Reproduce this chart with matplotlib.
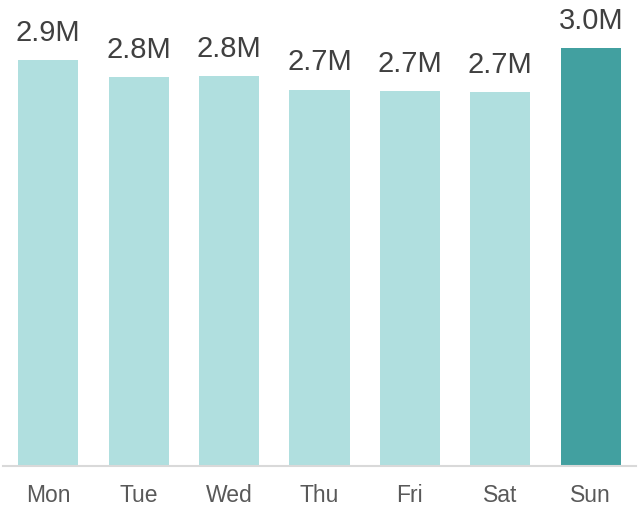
import matplotlib.pyplot as plt

plt.rcParams['font.family'] = ['Liberation Sans', 'DejaVu Sans']

# visitas por dia (millones)
dias = ['Mon', 'Tue', 'Wed', 'Thu', 'Fri', 'Sat', 'Sun']
valores = [2.91, 2.79, 2.80, 2.70, 2.69, 2.68, 3.00]
etiquetas = ['2.9M', '2.8M', '2.8M', '2.7M', '2.7M', '2.7M', '3.0M']

col_claro = '#b0dfdf'
col_oscuro = '#42a0a0'
colores = [col_oscuro if d == 'Sun' else col_claro for d in dias]

fig = plt.figure(figsize=(6.41, 5.12), dpi=100)
ax = fig.add_axes([3/641, 46.5/512, 633/641, 465.5/512])

x = range(len(dias))
barras = ax.bar(x, valores, width=0.665, color=colores)

for b, et in zip(barras, etiquetas):
    ax.annotate(et, (b.get_x() + b.get_width()/2, b.get_height()),
                xytext=(0, 9.5), textcoords='offset points',
                ha='center', va='bottom', fontsize=21, color='#404040')

ax.set_xlim(-0.5, 6.5)
ax.set_ylim(0, 3.344)
ax.set_xticks(list(x))
ax.set_xticklabels(dias, fontsize=16.5, color='#595959')
ax.tick_params(axis='x', length=0, pad=13)
ax.set_yticks([])
for s in ['top', 'right', 'left']:
    ax.spines[s].set_visible(False)
ax.spines['bottom'].set_color('#d9d9d9')
ax.spines['bottom'].set_linewidth(1.5)

fig.savefig('out.png', dpi=100)
